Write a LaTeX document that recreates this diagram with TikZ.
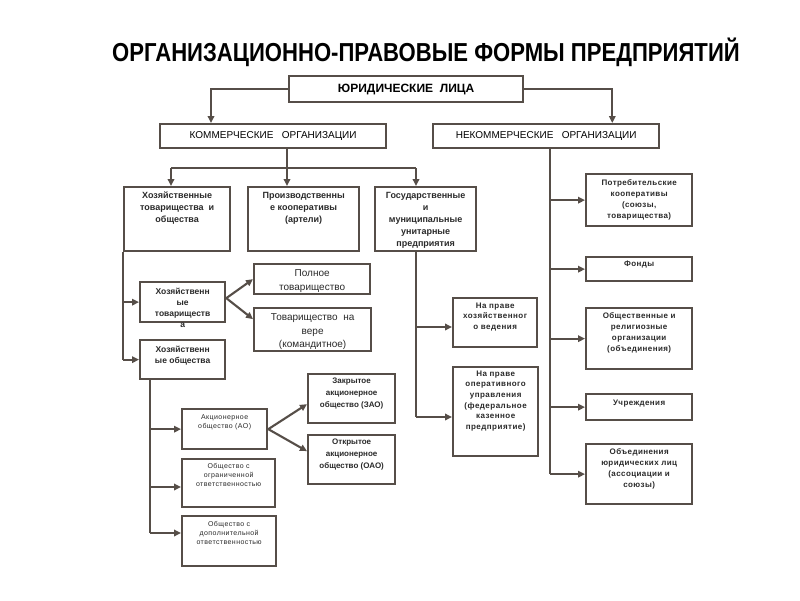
\documentclass[tikz,border=0pt]{standalone}
\usepackage{fontspec}
\usepackage{graphicx}
\setmainfont{Liberation Sans}
\usetikzlibrary{arrows.meta}
\definecolor{lncol}{HTML}{564E48}
\definecolor{tcol}{HTML}{2A2A2A}
\newcommand\mkbox[5]{\node[bx,minimum width={(#4-#2)*1pt},minimum height={(#5-#3)*1pt}] (#1) at (#2,#3) {};}
\begin{document}
\begin{tikzpicture}[x=1pt,y=-1pt,
  bx/.style={draw=lncol,line width=2.3pt,fill=white,inner sep=0pt,anchor=north west},
  tx/.style={anchor=north,inner sep=0pt,align=center,text=tcol},
  conn/.style={draw=lncol,line width=2.1pt},
  arr/.style={conn,-{Triangle[length=7pt,width=6.5pt]}},
  fA/.style={font=\fontsize{9}{12}\selectfont\bfseries},
  fB/.style={font=\fontsize{8.5}{11}\selectfont\bfseries},
  fC/.style={font=\fontsize{10}{13.5}\selectfont},
  fD/.style={font=\fontsize{7}{9.2}\selectfont\addfontfeatures{LetterSpace=6}},
  fE/.style={font=\fontsize{8}{12}\selectfont\bfseries},
  fF/.style={font=\fontsize{8}{10.6}\selectfont\bfseries\addfontfeatures{LetterSpace=6}},
  fG/.style={font=\fontsize{8}{11}\selectfont\bfseries\addfontfeatures{LetterSpace=5}}]
\fill[white] (0,0) rectangle (800,600);
\useasboundingbox (0,0) rectangle (800,600);

\node[font=\fontsize{26}{30}\selectfont\bfseries] (title) at (426,52) {\scalebox{0.85}[1]{ОРГАНИЗАЦИОННО-ПРАВОВЫЕ ФОРМЫ ПРЕДПРИЯТИЙ}};

\node[bx,minimum width=234pt,minimum height=26pt,font=\fontsize{12}{14}\selectfont\bfseries] (jur) at (288,75) {ЮРИДИЧЕСКИЕ\ \ ЛИЦА};
\node[bx,minimum width=226pt,minimum height=24pt,font=\fontsize{10}{12}\selectfont] (kom) at (159,123) {КОММЕРЧЕСКИЕ\ \ \ ОРГАНИЗАЦИИ};
\node[bx,minimum width=226pt,minimum height=24pt,font=\fontsize{10}{12}\selectfont] (nekom) at (432,123) {НЕКОММЕРЧЕСКИЕ\ \ \ ОРГАНИЗАЦИИ};

\mkbox{hoz}{123}{186}{229}{250}
\mkbox{proizv}{247}{186}{358}{250}
\mkbox{gos}{374}{186}{475}{250}
\mkbox{htov}{139}{281}{224}{321}
\mkbox{hob}{139}{339}{224}{378}
\mkbox{poln}{253}{263}{369}{293}
\mkbox{vera}{253}{307}{370}{350}
\mkbox{ao}{181}{408}{266}{448}
\mkbox{ooo}{181}{458}{274}{506}
\mkbox{odo}{181}{515}{275}{565}
\mkbox{zao}{307}{373}{394}{422}
\mkbox{oao}{307}{434}{394}{483}
\mkbox{hv}{452}{297}{536}{346}
\mkbox{ou}{452}{366}{537}{455}
\mkbox{potr}{585}{173}{691}{225}
\mkbox{fond}{585}{256}{691}{280}
\mkbox{obsh}{585}{307}{691}{368}
\mkbox{uchr}{585}{393}{691}{419}
\mkbox{obed}{585}{443}{691}{503}

\node[tx,fA] (hozt) at ([yshift=-6pt]hoz.north) {Хозяйственные\\товарищества\ \ и\\общества};
\node[tx,fA] (proizvt) at ([yshift=-6pt]proizv.north) {Производственны\\е кооперативы\\(артели)};
\node[tx,fA] (gost) at ([yshift=-6pt]gos.north) {Государственные\\и\\муниципальные\\унитарные\\предприятия};
\node[tx,fB] (htovt) at ([yshift=-7pt]htov.north) {Хозяйственн\\ые\\товариществ\\а};
\node[tx,fB] (hobt) at ([yshift=-7pt]hob.north) {Хозяйственн\\ые общества};
\node[tx,fC] (polnt) at ([yshift=-6.5pt]poln.north) {Полное\\товарищество};
\node[tx,fC] (verat) at ([yshift=-6.5pt]vera.north) {Товарищество\ \ на\\вере\\(командитное)};
\node[tx,fD] (aot) at ([yshift=-6pt]ao.north) {Акционерное\\общество (АО)};
\node[tx,fD] (ooot) at ([yshift=-5pt]ooo.north) {Общество с\\ограниченной\\ответственностью};
\node[tx,fD] (odot) at ([yshift=-6pt]odo.north) {Общество с\\дополнительной\\ответственностью};
\node[tx,fE] (zaot) at ([yshift=-4.5pt]zao.north) {Закрытое\\акционерное\\общество (ЗАО)};
\node[tx,fE] (oaot) at ([yshift=-4.5pt]oao.north) {Открытое\\акционерное\\общество (ОАО)};
\node[tx,fF] (hvt) at ([yshift=-5.5pt]hv.north) {На праве\\хозяйственног\\о ведения};
\node[tx,fF] (out) at ([yshift=-4.5pt]ou.north) {На праве\\оперативного\\управления\\(федеральное\\казенное\\предприятие)};
\node[tx,fG] (potrt) at ([yshift=-6.5pt]potr.north) {Потребительские\\кооперативы\\(союзы,\\товарищества)};
\node[tx,fG] (fondt) at ([yshift=-4.5pt]fond.north) {Фонды};
\node[tx,fG] (obsht) at ([yshift=-5.5pt]obsh.north) {Общественные и\\религиозные\\организации\\(объединения)};
\node[tx,fG] (uchrt) at ([yshift=-6.5pt]uchr.north) {Учреждения};
\node[tx,fG] (obedt) at ([yshift=-5.5pt]obed.north) {Объединения\\юридических лиц\\(ассоциации и\\союзы)};

% top level
\draw[arr] (jur.west) -| ([xshift=52pt]kom.north west);
\draw[arr] (jur.east) -| ([xshift=-48pt]nekom.north east);
% commercial
\coordinate (kb1) at (171,168);
\coordinate (kb2) at (416,168);
\draw[arr] ([xshift=128pt]kom.south west) -- ([xshift=128pt]kom.south west |- proizv.north);
\draw[conn] (kb1) -- (kb2);
\draw[arr] (kb1) -- (kb1 |- hoz.north);
\draw[arr] (kb2) -- (kb2 |- gos.north);
% hoz
\draw[conn] (hoz.south west) -- (hoz.south west |- hob.west);
\draw[arr] (hoz.south west |- htov.west) -- (htov.west);
\draw[arr] (hoz.south west |- hob.west) -- (hob.west);
\draw[arr] ([yshift=4pt]htov.east) -- (poln.west);
\draw[arr] ([yshift=4pt]htov.east) -- ([yshift=10.5pt]vera.west);
% hob
\coordinate (hb) at ([xshift=11pt]hob.south west);
\draw[conn] (hb) -- (hb |- 0,533);
\draw[arr] (hb |- ao.west) -- (ao.west);
\draw[arr] (hb |- 0,487) -- (ooo.west |- 0,487);
\draw[arr] (hb |- 0,533) -- (odo.west |- 0,533);
\draw[arr] (ao.east) -- ([yshift=-5.5pt]zao.west);
\draw[arr] (ao.east) -- ([yshift=8.5pt]oao.west);
% gos
\coordinate (gb) at ([xshift=42pt]gos.south west);
\draw[conn] (gb) -- (gb |- 0,417);
\draw[arr] (gb |- 0,327) -- (hv.west |- 0,327);
\draw[arr] (gb |- 0,417) -- (ou.west |- 0,417);
% noncommercial
\coordinate (nb) at ([xshift=118pt]nekom.south west);
\draw[conn] (nb) -- (nb |- obed.west);
\draw[arr] (nb |- potr.west) -- (potr.west);
\draw[arr] (nb |- fond.west) -- (fond.west);
\draw[arr] (nb |- obsh.west) -- (obsh.west);
\draw[arr] (nb |- uchr.west) -- (uchr.west);
\draw[arr] (nb |- obed.west) -- (obed.west);
\end{tikzpicture}
\end{document}
